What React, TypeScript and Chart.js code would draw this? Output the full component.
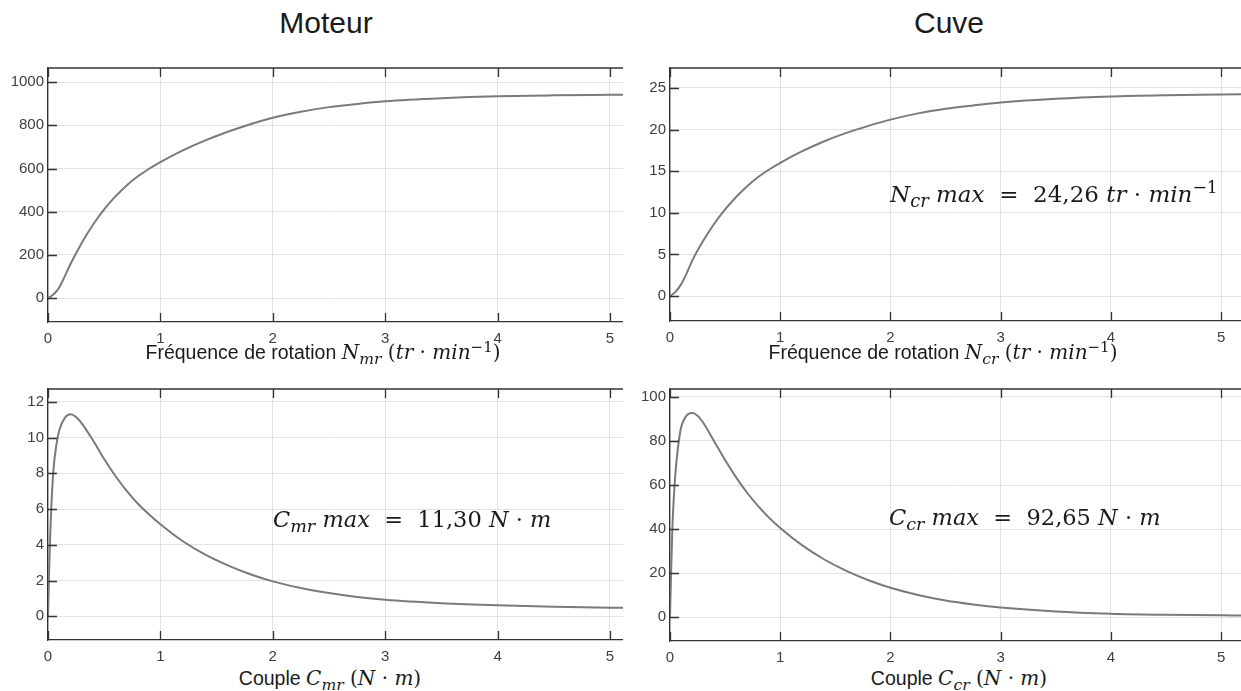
import React, { useEffect, useRef } from "react";
import { Chart, registerables } from "chart.js";

Chart.register(...registerables);

// ---- data ----
const X_N = [0, 0.05, 0.1, 0.15, 0.2, 0.3, 0.4, 0.5, 0.6, 0.7, 0.8, 0.9, 1.0, 1.2, 1.4, 1.6, 1.8, 2.0, 2.25, 2.5, 2.75, 3.0, 3.5, 4.0, 4.5, 5.0, 5.2];
const N_MR = [0, 18, 50, 102, 158, 256, 340, 411, 471, 522, 564, 599, 630, 684, 730, 770, 805, 835, 863, 884, 899, 911, 925, 934, 938.5, 941, 942];
const N_CR = [0, 0.5, 1.4, 2.7, 4.2, 6.6, 8.65, 10.4, 11.9, 13.2, 14.3, 15.2, 16.0, 17.4, 18.6, 19.6, 20.45, 21.2, 21.95, 22.5, 22.9, 23.25, 23.7, 23.98, 24.13, 24.22, 24.26];

const X_C = [0, 0.01, 0.02, 0.03, 0.05, 0.075, 0.1, 0.15, 0.2, 0.25, 0.3, 0.4, 0.5, 0.6, 0.7, 0.8, 0.9, 1.0, 1.2, 1.4, 1.6, 1.8, 2.0, 2.25, 2.5, 2.75, 3.0, 3.5, 4.0, 4.5, 5.0, 5.2];
const C_MR = [0, 2.5, 4.6, 6.2, 8.3, 9.6, 10.4, 11.1, 11.3, 11.15, 10.8, 9.85, 8.8, 7.85, 7.02, 6.3, 5.7, 5.15, 4.2, 3.45, 2.85, 2.35, 1.95, 1.58, 1.3, 1.08, 0.92, 0.73, 0.61, 0.53, 0.48, 0.47];
const C_CR = [0, 20, 38, 50, 66, 78, 86, 91.5, 92.65, 91.5, 88.4, 79.9, 71.4, 63.5, 56.5, 50.4, 45.1, 40.5, 32.6, 26.2, 21.0, 16.8, 13.4, 10.1, 7.6, 5.8, 4.4, 2.6, 1.6, 1.1, 0.85, 0.8];

const X_TICKS = [0, 1, 2, 3, 4, 5];
const Y_TICKS_NMR = [0, 200, 400, 600, 800, 1000];
const Y_TICKS_NCR = [0, 5, 10, 15, 20, 25];
const Y_TICKS_CMR = [0, 2, 4, 6, 8, 10, 12];
const Y_TICKS_CCR = [0, 20, 40, 60, 80, 100];

const SANS = "'Liberation Sans', Arial, sans-serif";
const SERIF = "'DejaVu Serif', 'Liberation Serif', serif";

type Box = { l: number; t: number; r: number; b: number };
type Spec = {
  box: Box;
  plot: Box;
  xMax: number;
  yMin: number;
  yMax: number;
  xs: number[];
  ys: number[];
  yTicks: number[];
};

const innerTicks = {
  id: "innerTicks",
  afterDraw(chart: any) {
    const { ctx, chartArea: a, scales } = chart;
    const x = scales.x;
    const y = scales.y;
    ctx.save();
    ctx.strokeStyle = "#333";
    ctx.lineWidth = 1.3;
    ctx.beginPath();
    ctx.moveTo(a.left, a.top);
    ctx.lineTo(a.right, a.top);
    for (const t of x.ticks) {
      const px = Math.round(x.getPixelForValue(t.value)) + 0.5;
      ctx.moveTo(px, a.bottom);
      ctx.lineTo(px, a.bottom - 9);
      ctx.moveTo(px, a.top);
      ctx.lineTo(px, a.top + 9);
    }
    for (const t of y.ticks) {
      const py = Math.round(y.getPixelForValue(t.value)) + 0.5;
      ctx.moveTo(a.left, py);
      ctx.lineTo(a.left + 9, py);
    }
    ctx.stroke();
    ctx.restore();
  },
};

function Plot({ spec }: { spec: Spec }) {
  const ref = useRef<HTMLCanvasElement>(null);
  const { box, plot } = spec;
  useEffect(() => {
    const chart = new Chart(ref.current as HTMLCanvasElement, {
      type: "line",
      data: {
        datasets: [
          {
            data: spec.xs.map((x, i) => ({ x, y: spec.ys[i] })),
            borderColor: "#7a7a7a",
            borderWidth: 2,
            pointRadius: 0,
            cubicInterpolationMode: "monotone",
            fill: false,
          },
        ],
      },
      options: {
        animation: false,
        responsive: false,
        devicePixelRatio: 1,
        layout: { padding: { top: plot.t - box.t, right: box.r - plot.r, left: 0, bottom: 0 } },
        plugins: { legend: { display: false }, tooltip: { enabled: false } },
        scales: {
          x: {
            type: "linear",
            min: 0,
            max: spec.xMax,
            afterBuildTicks: (s: any) => {
              s.ticks = X_TICKS.map((v) => ({ value: v }));
            },
            afterFit: (s: any) => {
              s.height = box.b - plot.b;
            },
            grid: { color: "#e2e2e2", drawTicks: false, lineWidth: 1 },
            border: { color: "#333", width: 1.3 },
            ticks: {
              font: { family: SANS, size: 15 },
              color: "#404040",
              padding: 8,
              maxRotation: 0,
              autoSkip: false,
              callback: (v: any) => String(v),
            },
          },
          y: {
            type: "linear",
            min: spec.yMin,
            max: spec.yMax,
            afterBuildTicks: (s: any) => {
              s.ticks = spec.yTicks.map((v) => ({ value: v }));
            },
            afterFit: (s: any) => {
              s.width = plot.l - box.l;
            },
            grid: { color: "#e2e2e2", drawTicks: false, lineWidth: 1 },
            border: { color: "#333", width: 1.3 },
            ticks: {
              font: { family: SANS, size: 15 },
              color: "#404040",
              padding: 4,
              autoSkip: false,
              callback: (v: any) => String(v),
            },
          },
        },
      } as any,
      plugins: [innerTicks],
    });
    return () => chart.destroy();
  }, []);
  return (
    <canvas
      ref={ref}
      width={box.r - box.l}
      height={box.b - box.t}
      style={{ position: "absolute", left: box.l, top: box.t, width: box.r - box.l, height: box.b - box.t }}
    />
  );
}

const SPECS: Spec[] = [
  {
    box: { l: 0, t: 55, r: 623, b: 350 },
    plot: { l: 48, t: 67, r: 623, b: 322 },
    xMax: 5.116, yMin: -110, yMax: 1065, xs: X_N, ys: N_MR, yTicks: Y_TICKS_NMR,
  },
  {
    box: { l: 625, t: 55, r: 1241, b: 350 },
    plot: { l: 670, t: 66, r: 1241, b: 321 },
    xMax: 5.18, yMin: -3, yMax: 27.4, xs: X_N, ys: N_CR, yTicks: Y_TICKS_NCR,
  },
  {
    box: { l: 0, t: 376, r: 623, b: 662 },
    plot: { l: 48, t: 387, r: 623, b: 640 },
    xMax: 5.116, yMin: -1.33, yMax: 12.72, xs: X_C, ys: C_MR, yTicks: Y_TICKS_CMR,
  },
  {
    box: { l: 625, t: 376, r: 1241, b: 662 },
    plot: { l: 670, t: 386, r: 1241, b: 641 },
    xMax: 5.18, yMin: -10.8, yMax: 103.6, xs: X_C, ys: C_CR, yTicks: Y_TICKS_CCR,
  },
];

const subS: React.CSSProperties = { fontSize: "0.78em", verticalAlign: "-0.3em", lineHeight: 0 };
const supS: React.CSSProperties = { fontSize: "0.75em", verticalAlign: "0.5em", lineHeight: 0 };

function Txt({ x, base, size, family, center, children }: any) {
  return (
    <div
      style={{
        position: "absolute",
        left: x,
        top: base - 0.85 * size,
        fontSize: size,
        lineHeight: `${size}px`,
        fontFamily: family,
        whiteSpace: "pre",
        color: "#1a1a1a",
        transform: center ? "translateX(-50%)" : undefined,
      }}
    >
      {children}
    </div>
  );
}

function Sub({ children }: any) {
  return <span style={subS}>{children}</span>;
}
function Sup({ children }: any) {
  return <span style={supS}>{children}</span>;
}
function M({ children, size }: any) {
  return <span style={{ fontFamily: SERIF, fontSize: size }}>{children}</span>;
}

export default function App() {
  return (
    <div style={{ position: "absolute", left: 0, top: 0, width: 1241, height: 691, background: "#fff", overflow: "hidden" }}>
      {SPECS.map((s, i) => (
        <Plot key={i} spec={s} />
      ))}
      <Txt x={326} base={33} size={30} family={SANS} center>Moteur</Txt>
      <Txt x={949} base={33} size={30} family={SANS} center>Cuve</Txt>

      <Txt x={323} base={360} size={19.5} family={SANS} center>
        Fréquence de rotation{" "}
        <M size={20}>
          <i>N</i><Sub><i>mr</i></Sub> (<i>tr</i> · <i>min</i><Sup>−1</Sup>)
        </M>
      </Txt>
      <Txt x={943} base={360} size={19.5} family={SANS} center>
        Fréquence de rotation{" "}
        <M size={20}>
          <i>N</i><Sub><i>cr</i></Sub> (<i>tr</i> · <i>min</i><Sup>−1</Sup>)
        </M>
      </Txt>
      <Txt x={330} base={686} size={19.5} family={SANS} center>
        Couple{" "}
        <M size={20}>
          <i>C</i><Sub><i>mr</i></Sub> (<i>N</i> · <i>m</i>)
        </M>
      </Txt>
      <Txt x={959} base={686} size={19.5} family={SANS} center>
        Couple{" "}
        <M size={20}>
          <i>C</i><Sub><i>cr</i></Sub> (<i>N</i> · <i>m</i>)
        </M>
      </Txt>

      <Txt x={890} base={203} size={23} family={SERIF}>
        <i>N</i><Sub><i>cr</i></Sub> <i>max</i>{"  =  "}24,26 <i>tr</i> · <i>min</i><Sup>−1</Sup>
      </Txt>
      <Txt x={273} base={527} size={22.5} family={SERIF}>
        <i>C</i><Sub><i>mr</i></Sub> <i>max</i>{"  =  "}11,30 <i>N</i> · <i>m</i>
      </Txt>
      <Txt x={889} base={525} size={22.5} family={SERIF}>
        <i>C</i><Sub><i>cr</i></Sub> <i>max</i>{"  =  "}92,65 <i>N</i> · <i>m</i>
      </Txt>
    </div>
  );
}
